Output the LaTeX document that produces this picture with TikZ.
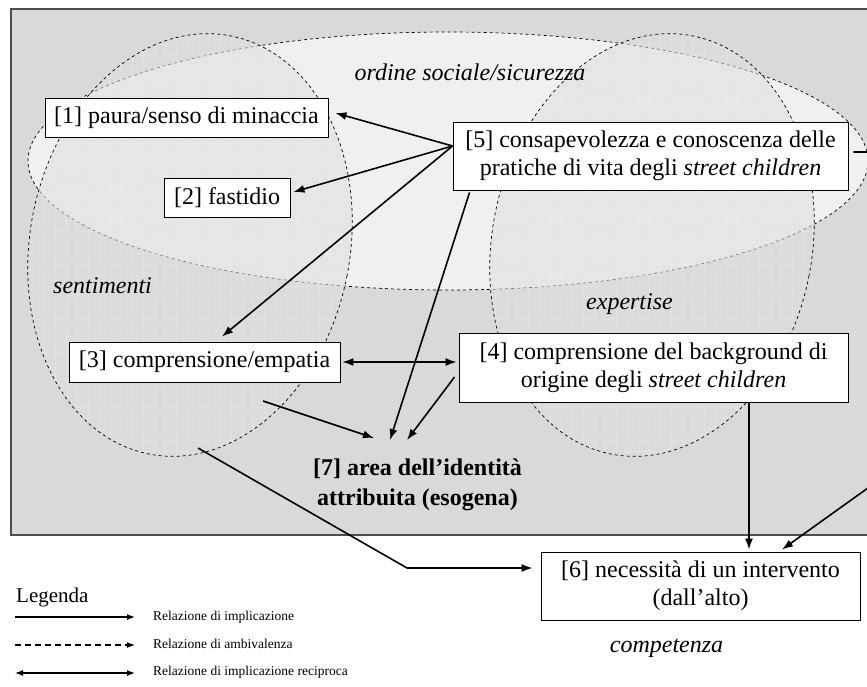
\documentclass[tikz,border=0pt]{standalone}
\usepackage{fontspec}
\setmainfont{Liberation Serif}
\usetikzlibrary{arrows.meta,calc}

\definecolor{panel}{HTML}{D9D9D9}
\definecolor{panelrule}{HTML}{4D4D4D}
\definecolor{orderfill}{HTML}{F0F0F0}
\definecolor{lobefill}{HTML}{DEDEDE}

\begin{document}
\begin{tikzpicture}[x=1pt,y=-1pt,
  box/.style={draw=black, line width=0.9pt, fill=white, align=center,
    inner sep=0pt, font=\fontsize{24}{28}\selectfont},
  zone/.style={font=\fontsize{24}{28}\selectfont\itshape, inner sep=0pt, anchor=base},
  imp/.style={line width=1.6pt, -{Latex[length=11pt,width=8pt]}},
  both/.style={line width=1.6pt, {Latex[length=11pt,width=8pt]}-{Latex[length=11pt,width=8pt]}},
  area/.style={dash pattern=on 3pt off 3pt, line width=0.7pt},
  gridline/.style={white, opacity=0.18, line width=0.4pt},
  legtext/.style={anchor=base west, inner sep=0pt, font=\fontsize{13.5}{16}\selectfont},
  legimp/.style={line width=1.3pt, -{Latex[length=8pt,width=6pt]}},
  legamb/.style={line width=1.3pt, dash pattern=on 6pt off 4pt, -{Latex[length=8pt,width=6pt]}},
  legboth/.style={line width=1.3pt, {Latex[length=8pt,width=6pt]}-{Latex[length=8pt,width=6pt]}}
]
\useasboundingbox (0,0) rectangle (867,686);
\clip (0,0) rectangle (867,686);

% grey panel
\draw[fill=panel, draw=panelrule, line width=1.2pt] (11,9) rectangle (890,535);

% ordine sociale / sicurezza
\fill[orderfill] (448,161) ellipse [x radius=420, y radius=129];
\draw[area] (448,161) ellipse [x radius=420, y radius=129];

% sentimenti and expertise lobes
\foreach \cx in {190,652} {
  \begin{scope}
    \clip[rotate around={-11:(\cx,245)}] (\cx,245) ellipse [x radius=160, y radius=213];
    \fill[lobefill, opacity=0.57] (\cx-220,20) rectangle (\cx+220,470);
    \draw[gridline] (\cx-220,20) grid[step=11pt] (\cx+220,470);
  \end{scope}
  \draw[area, rotate around={-11:(\cx,245)}] (\cx,245) ellipse [x radius=160, y radius=213];
}

% zone labels
\node[zone] (zord) at (470,80) {ordine sociale/sicurezza};
\node[zone, anchor=base west] (zsen) at (53,293) {sentimenti};
\node[zone] (zexp) at (629.5,309) {expertise};
\node[zone] (zcom) at (666.5,652) {competenza};

% boxes
\node[box, minimum width=283pt, minimum height=39pt] (n1) at (186.5,117.5) {[1] paura/senso di minaccia};
\node[box, minimum width=126pt, minimum height=39pt] (n2) at (227,197.5) {[2] fastidio};
\node[box, minimum width=271pt, minimum height=40pt] (n3) at (204.5,362) {[3] comprensione/empatia};
\node[box, minimum width=389pt, minimum height=69pt] (n4) at (653.5,367.5)
  {[4] comprensione del background di\\origine degli \textit{street children}};
\node[box, minimum width=395pt, minimum height=68pt] (n5) at (650.5,156)
  {[5] consapevolezza e conoscenza delle\\pratiche di vita degli \textit{street children}};
\node[box, minimum width=319pt, minimum height=68pt] (n6) at (700.5,586)
  {[6] necessità di un intervento\\(dall’alto)};
\node[align=center, inner sep=0pt, font=\fontsize{24}{30}\selectfont\bfseries] (n7) at (417.5,485)
  {[7] area dell’identità\\attribuita (esogena)};

% connector ends
\coordinate (fan) at ([yshift=10pt]n5.west);
\coordinate (t7a) at (374,438);
\coordinate (t7b) at (390,440);
\coordinate (t7c) at (407,440);
\coordinate (s3) at (263,401);
\coordinate (s6) at (198,448);
\coordinate (bend6) at (407,568);
\coordinate (r1) at (900,152);
\coordinate (r2) at (900,465);

% connectors
\draw[imp] (fan) -- ([xshift=7pt,yshift=4.5pt]n1.east);
\draw[imp] (fan) -- ([xshift=3pt,yshift=5.5pt]n2.east);
\draw[imp] (fan) -- ([xshift=17.5pt,yshift=5pt]n3.north);
\draw[imp] ([xshift=17pt,yshift=-2pt]n5.south west) -- (t7b);
\draw[both, shorten <=2pt, shorten >=2pt] (n3.east) -- (n3.east -| n4.west);
\draw[imp] (s3) -- (t7a);
\draw[imp] ([xshift=-4pt,yshift=-9.5pt]n4.west) -- (t7c);
\draw[imp] (s6) -- (bend6) -- ([xshift=-8pt,yshift=18pt]n6.west);
\draw[imp, shorten >=2pt] ([xshift=95.5pt]n4.south) -- ([xshift=95.5pt]n4.south |- n6.north);
\draw[imp] ([xshift=5pt,yshift=4pt]n5.east) -- (r1) -- (r2) -- ([xshift=81.5pt,yshift=2pt]n6.north);

% legend
\node[anchor=base west, inner sep=0pt, font=\fontsize{21}{24}\selectfont] (leg) at (16,602) {Legenda};
\node[legtext] (l1) at (153,620) {Relazione di implicazione};
\node[legtext] (l2) at (153,648) {Relazione di ambivalenza};
\node[legtext] (l3) at (153,675) {Relazione di implicazione reciproca};
\coordinate (a1) at (15,617);
\coordinate (a2) at (15,645);
\coordinate (a3) at (15,673);
\draw[legimp] (a1) -- ++(120,0);
\draw[legamb] (a2) -- ++(120,0);
\draw[legboth] (a3) -- ++(120,0);
\end{tikzpicture}
\end{document}
